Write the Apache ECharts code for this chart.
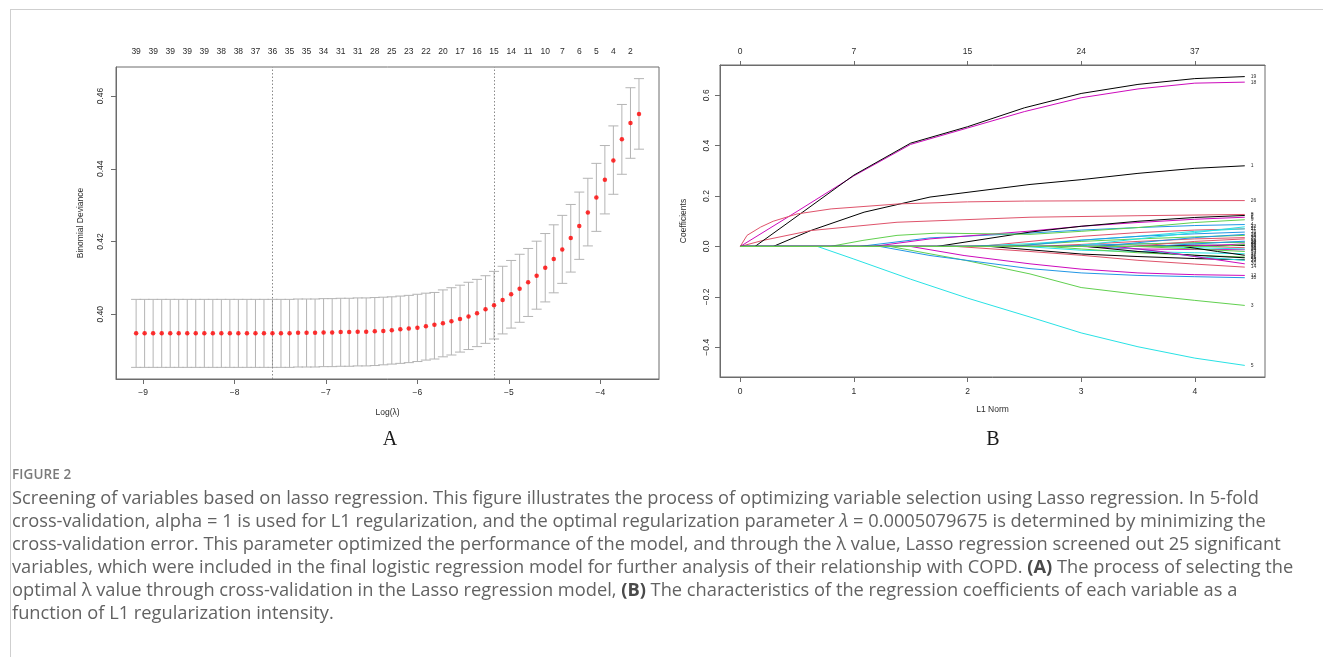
<!DOCTYPE html>
<html>
<head>
<meta charset="utf-8">
<script src="https://cdn.jsdelivr.net/npm/echarts@6/dist/echarts.min.js"></script>
<style>
html,body{margin:0;padding:0;background:#fff;}
#wrap{position:relative;width:1323px;height:657px;overflow:hidden;background:#fff;}
#chart{position:absolute;left:0;top:0;width:1323px;height:657px;}
#frame{position:absolute;left:10px;top:9px;width:1320px;height:660px;border-left:1px solid #cfcfcf;border-top:1px solid #cfcfcf;}
.cap{position:absolute;left:12px;font-family:'Open Sans',Lato,sans-serif;color:#626262;font-size:16.5px;line-height:23px;white-space:nowrap;}
.fig{position:absolute;left:12px;top:466px;font-family:'Open Sans',Lato,sans-serif;color:#7a7a7a;font-size:13.5px;font-weight:600;line-height:16px;letter-spacing:0.1px;}
.cap b{color:#4a4a4a;}
</style>
</head>
<body>
<div id="wrap">
<div id="chart"></div>
<div id="frame"></div>
<div class="fig">FIGURE 2</div>
<div class="cap fitline" style="top:485px">Screening of variables based on lasso regression. This figure illustrates the process of optimizing variable selection using Lasso regression. In 5-fold</div>
<div class="cap fitline" style="top:508px">cross-validation, alpha = 1 is used for L1 regularization, and the optimal regularization parameter <i>λ</i> = 0.0005079675 is determined by minimizing the</div>
<div class="cap fitline" style="top:531px">cross-validation error. This parameter optimized the performance of the model, and through the λ value, Lasso regression screened out 25 significant</div>
<div class="cap fitline" style="top:554px">variables, which were included in the final logistic regression model for further analysis of their relationship with COPD. <b>(A)</b> The process of selecting the</div>
<div class="cap fitline" style="top:577px">optimal λ value through cross-validation in the Lasso regression model, <b>(B)</b> The characteristics of the regression coefficients of each variable as a</div>
<div class="cap" style="top:600px">function of L1 regularization intensity.</div>
</div>
<script>
// ---------- Panel A data: cross-validation curve ----------
const logLambda = [-9.076,-8.983,-8.890,-8.796,-8.703,-8.610,-8.517,-8.424,-8.330,-8.237,
  -8.144,-8.051,-7.958,-7.864,-7.771,-7.678,-7.585,-7.492,-7.398,-7.305,
  -7.212,-7.119,-7.026,-6.932,-6.839,-6.746,-6.653,-6.560,-6.466,-6.373,
  -6.280,-6.187,-6.094,-6.000,-5.907,-5.814,-5.721,-5.628,-5.534,-5.441,
  -5.348,-5.255,-5.162,-5.068,-4.975,-4.882,-4.789,-4.696,-4.602,-4.509,
  -4.416,-4.323,-4.230,-4.136,-4.043,-3.950,-3.857,-3.764,-3.670,-3.577];
const cvMean = [0.3948,0.3948,0.3948,0.3948,0.3948,0.3948,0.3948,0.3948,0.3948,0.3948,
  0.3948,0.3948,0.3948,0.3948,0.3948,0.3948,0.3948,0.3948,0.3948,0.3949,
  0.3949,0.3949,0.3950,0.3950,0.3951,0.3951,0.3952,0.3952,0.3953,0.3954,
  0.3956,0.3959,0.3961,0.3963,0.3967,0.3971,0.3975,0.3981,0.3987,0.3994,
  0.4003,0.4014,0.4025,0.4039,0.4055,0.4070,0.4088,0.4106,0.4128,0.4152,
  0.4178,0.4210,0.4243,0.4280,0.4321,0.4370,0.4423,0.4481,0.4526,0.4551];
const cvUpper = [0.4041,0.4041,0.4041,0.4041,0.4041,0.4041,0.4041,0.4041,0.4041,0.4041,
  0.4041,0.4041,0.4041,0.4041,0.4041,0.4041,0.4041,0.4041,0.4041,0.4042,
  0.4042,0.4042,0.4043,0.4043,0.4044,0.4044,0.4045,0.4045,0.4046,0.4047,
  0.4048,0.4050,0.4052,0.4055,0.4058,0.4060,0.4067,0.4073,0.4080,0.4088,
  0.4096,0.4106,0.4118,0.4132,0.4148,0.4165,0.4181,0.4201,0.4222,0.4246,
  0.4272,0.4302,0.4336,0.4374,0.4415,0.4464,0.4518,0.4577,0.4623,0.4648];
const cvLower = [0.3854,0.3854,0.3854,0.3854,0.3854,0.3854,0.3854,0.3854,0.3854,0.3854,
  0.3854,0.3854,0.3854,0.3854,0.3854,0.3854,0.3854,0.3854,0.3854,0.3855,
  0.3855,0.3855,0.3856,0.3856,0.3857,0.3857,0.3858,0.3858,0.3859,0.3861,
  0.3863,0.3865,0.3867,0.3870,0.3874,0.3877,0.3883,0.3888,0.3896,0.3903,
  0.3911,0.3920,0.3932,0.3946,0.3962,0.3978,0.3994,0.4014,0.4034,0.4059,
  0.4085,0.4116,0.4151,0.4188,0.4228,0.4276,0.4330,0.4385,0.4429,0.4454];
// number of non-zero coefficients shown on the top axis (every other lambda)
const nzeroLabels = [39,39,39,39,39,38,38,37,36,35,35,34,31,31,28,25,23,22,20,17,16,15,14,11,10,7,6,5,4,2];
const lambdaMin = 0.0005079675;
const logLambda1se = -5.162;
const xTicksA = [-9,-8,-7,-6,-5,-4];
const yTicksA = [0.40,0.42,0.44,0.46];

// ---------- Panel B data: coefficient paths vs L1 norm ----------
const l1Ticks = [0,1,2,3,4];
const dfLabels = [0,7,15,24,37];
const coefTicks = [-0.4,-0.2,0.0,0.2,0.4,0.6];
const v1 = [[0,0],[0.29,0],[0.62,0.063],[1.09,0.136],[1.67,0.196],[2.55,0.246],[3,0.265],[3.5,0.29],[4,0.31],[4.44,0.32]];
const v2 = [[0,0],[2.1,0],[3,0.04],[3.5,0.055],[4,0.065],[4.44,0.07]];
const v3 = [[0,0],[1.32,0],[1.98,-0.055],[2.55,-0.109],[3,-0.163],[3.5,-0.19],[4,-0.214],[4.44,-0.234]];
const v4 = [[0,0],[1.05,0],[1.67,0.034],[2.55,0.053],[3,0.065],[3.5,0.075],[4,0.083],[4.44,0.087]];
const v5 = [[0,0],[0.68,0],[1,-0.05],[1.5,-0.13],[2,-0.205],[2.55,-0.28],[3,-0.343],[3.5,-0.398],[4,-0.443],[4.44,-0.472]];
const v6 = [[0,0],[1.17,0],[1.67,0.03],[2.55,0.061],[3,0.08],[3.5,0.095],[4,0.108],[4.44,0.116]];
const v7 = [[0,0],[1.73,0],[2.55,0.057],[3,0.08],[3.5,0.1],[4,0.115],[4.44,0.123]];
const v8 = [[0,0],[0.2,0.024],[0.62,0.063],[1.38,0.096],[2.55,0.116],[3.5,0.122],[4.44,0.127]];
const v9 = [[0,0],[0.79,0],[1.08,0.024],[1.38,0.044],[1.73,0.053],[2.55,0.048],[3,0.06],[3.5,0.075],[4,0.095],[4.44,0.106]];
const v10 = [[0,0],[1.23,0],[1.67,-0.036],[2.55,-0.088],[3,-0.105],[3.5,-0.115],[4,-0.12],[4.44,-0.124]];
const v11 = [[0,0],[1.97,0],[2.55,0.011],[3,0.025],[3.5,0.04],[4,0.06],[4.44,0.07]];
const v12 = [[0,0],[1.5,0],[1.97,-0.036],[2.55,-0.069],[3,-0.09],[3.5,-0.105],[4,-0.112],[4.44,-0.115]];
const v13 = [[0,0],[2.2,0],[3,-0.03],[3.5,-0.04],[4,-0.048],[4.44,-0.053]];
const v14 = [[0,0],[1.9,0],[2.55,-0.02],[3,-0.035],[3.5,-0.055],[4,-0.07],[4.44,-0.082]];
const v15 = [[0,0],[2.3,0],[3,0.02],[3.5,0.03],[4,0.038],[4.44,0.044]];
const v16 = [[0,0],[2.4,0],[3,0.025],[3.5,0.04],[4,0.05],[4.44,0.057]];
const v17 = [[0,0],[2.5,0],[3,-0.015],[3.5,-0.02],[4,-0.025],[4.44,-0.029]];
const v18 = [[0,0],[0.5,0.139],[1,0.28],[1.5,0.405],[2,0.47],[2.5,0.535],[3,0.59],[3.5,0.625],[4,0.648],[4.44,0.652]];
const v19 = [[0,0],[0.13,0],[0.5,0.12],[1,0.283],[1.5,0.41],[2,0.475],[2.5,0.55],[3,0.607],[3.5,0.643],[4,0.666],[4.44,0.674]];
const v20 = [[0,0],[2.6,0],[3,0.008],[3.5,0.02],[4,0.03],[4.44,0.035]];
const v21 = [[0,0],[2.7,0],[3,-0.01],[3.5,-0.025],[4,-0.035],[4.44,-0.042]];
const v22 = [[0,0],[2.8,0],[3,0.005],[3.5,0.01],[4,0.014],[4.44,0.017]];
const v23 = [[0,0],[2.9,0],[3.5,0.03],[4,0.055],[4.44,0.078]];
const v24 = [[0,0],[3.0,0],[3.5,-0.01],[4,-0.012],[4.44,-0.013]];
const v25 = [[0,0],[3.05,0],[3.5,-0.02],[4,-0.035],[4.44,-0.045]];
const v26 = [[0,0],[0.06,0.044],[0.18,0.077],[0.29,0.1],[0.5,0.129],[0.8,0.149],[1.4,0.169],[2,0.177],[2.5,0.18],[3.5,0.182],[4.44,0.182]];
const v27 = [[0,0],[3.1,0],[3.5,0.01],[4,0.015],[4.44,0.017]];
const v28 = [[0,0],[3.15,0],[3.5,0.015],[4,0.035],[4.44,0.048]];
const v29 = [[0,0],[3.2,0],[3.5,-0.01],[4,-0.04],[4.44,-0.055]];
const v30 = [[0,0],[3.3,0],[3.7,-0.02],[4,-0.04],[4.44,-0.069]];
const v31 = [[0,0],[3.4,0],[4,0.005],[4.44,0.004]];
const v32 = [[0,0],[3.45,0],[4,0.02],[4.44,0.03]];
const v33 = [[0,0],[3.5,0],[4,-0.01],[4.44,-0.02]];
const v34 = [[0,0],[3.6,0],[4,0.01],[4.44,0.021]];
const v35 = [[0,0],[3.7,0],[4,-0.005],[4.44,-0.01]];
const v36 = [[0,0],[3.8,0],[4.2,0.005],[4.44,0.01]];
const v37 = [[0,0],[3.9,0],[4.2,-0.02],[4.44,-0.035]];
const v38 = [[0,0],[4.1,0],[4.44,-0.005]];
const v39 = [[0,0],[4.2,0],[4.44,0.008]];
const coefPaths = [v1,v2,v3,v4,v5,v6,v7,v8,v9,v10,v11,v12,v13,v14,v15,v16,v17,v18,v19,v20,
  v21,v22,v23,v24,v25,v26,v27,v28,v29,v30,v31,v32,v33,v34,v35,v36,v37,v38,v39];
const pathPalette = ['#000000','#DF536B','#61D04F','#2297E6','#28E2E5','#CD0BBC'];

// ---------- caption width fit (total width of the five full lines) ----------
function fitCaption() {
  const caps = document.querySelectorAll('.cap');
  const lines = document.querySelectorAll('.fitline');
  const base = 16.5;
  caps.forEach(c => { c.style.fontSize = base + 'px'; });
  let w = 0;
  lines.forEach(c => { w += c.getBoundingClientRect().width; });
  if (w > 0) {
    const fs = base * 6281 / w;
    caps.forEach(c => { c.style.fontSize = fs.toFixed(2) + 'px'; });
  }
}
fitCaption();
if (document.fonts && document.fonts.ready) { document.fonts.ready.then(fitCaption); }

// ---------- build chart ----------
const FONT = '"Liberation Sans", Arial, Helvetica, sans-serif';
const TXT = '#2b2b2b';
const AX = '#6c6c6c';
const FS = 8.5;
const minus = v => String(v).replace('-', '\u2212');
const topMapA = {};
const topValuesA = nzeroLabels.map((n, i) => { topMapA[logLambda[2*i].toFixed(3)] = n; return logLambda[2*i]; });
const dfMap = {};
l1Ticks.forEach((v, i) => { dfMap[v] = dfLabels[i]; });

const labelBase = {fontSize: FS, color: TXT, fontFamily: FONT};
const nameBase = {fontSize: FS, color: TXT, fontFamily: FONT};

const series = [];
// error bars
series.push({
  type: 'custom', xAxisIndex: 0, yAxisIndex: 0, silent: true, z: 2,
  data: logLambda.map((x, i) => [x, cvLower[i], cvUpper[i]]),
  renderItem: (params, api) => {
    const x = api.value(0), lo = api.value(1), hi = api.value(2);
    const barw = 0.055;
    const pLo = api.coord([x, lo]), pHi = api.coord([x, hi]);
    const l1 = api.coord([x - barw, lo]), r1 = api.coord([x + barw, lo]);
    const l2 = api.coord([x - barw, hi]), r2 = api.coord([x + barw, hi]);
    const style = {stroke: '#b4b4b4', lineWidth: 1, fill: null};
    return {type: 'group', children: [
      {type: 'line', shape: {x1: pLo[0], y1: pLo[1], x2: pHi[0], y2: pHi[1]}, style},
      {type: 'line', shape: {x1: l1[0], y1: l1[1], x2: r1[0], y2: r1[1]}, style},
      {type: 'line', shape: {x1: l2[0], y1: l2[1], x2: r2[0], y2: r2[1]}, style}
    ]};
  }
});
// mean points + reference lines
series.push({
  type: 'scatter', xAxisIndex: 0, yAxisIndex: 0, z: 5, silent: true,
  symbol: 'circle', symbolSize: 4.5,
  itemStyle: {color: '#ff0000'},
  data: logLambda.map((x, i) => [x, cvMean[i]]),
  markLine: {
    silent: true, symbol: ['none', 'none'], label: {show: false},
    lineStyle: {type: [1.5, 2], color: '#8a8a8a', width: 1},
    data: [{xAxis: Math.log(lambdaMin)}, {xAxis: logLambda1se}]
  }
});
// coefficient paths
coefPaths.forEach((p, k) => {
  const col = pathPalette[k % 6];
  series.push({
    type: 'line', xAxisIndex: 2, yAxisIndex: 1, silent: true, z: 3,
    data: p, showSymbol: false, symbol: 'none', smooth: false,
    lineStyle: {width: 1, color: col}, itemStyle: {color: col},
    endLabel: {show: true, formatter: String(k + 1), fontSize: 5, color: '#333', fontFamily: FONT, distance: 6}
  });
});

const option = {
  animation: false,
  backgroundColor: '#ffffff',
  textStyle: {fontFamily: FONT},
  grid: [
    {left: 116, top: 67, width: 543, height: 312, show: true, borderColor: AX, borderWidth: 1, backgroundColor: 'transparent'},
    {left: 720, top: 65, width: 545, height: 312, show: true, borderColor: AX, borderWidth: 1, backgroundColor: 'transparent'}
  ],
  xAxis: [
    {gridIndex: 0, type: 'value', position: 'bottom', min: -9.296, max: -3.358,
     axisLine: {show: true, onZero: false, lineStyle: {color: AX}},
     axisTick: {show: true, length: 5, customValues: xTicksA, lineStyle: {color: AX}},
     axisLabel: Object.assign({customValues: xTicksA, margin: 9, formatter: v => minus(v)}, labelBase),
     splitLine: {show: false},
     name: 'Log(\u03bb)', nameLocation: 'middle', nameGap: 29, nameTextStyle: nameBase},
    {gridIndex: 0, type: 'value', position: 'top', min: -9.296, max: -3.358,
     axisLine: {show: false}, axisTick: {show: false},
     axisLabel: Object.assign({customValues: topValuesA, margin: 11, formatter: v => String(topMapA[Number(v).toFixed(3)])}, labelBase),
     splitLine: {show: false}},
    {gridIndex: 1, type: 'value', position: 'bottom', min: -0.178, max: 4.618,
     axisLine: {show: true, onZero: false, lineStyle: {color: AX}},
     axisTick: {show: true, length: 5, customValues: l1Ticks, lineStyle: {color: AX}},
     axisLabel: Object.assign({customValues: l1Ticks, margin: 10, formatter: v => String(v)}, labelBase),
     splitLine: {show: false},
     name: 'L1 Norm', nameLocation: 'middle', nameGap: 28, nameTextStyle: nameBase},
    {gridIndex: 1, type: 'value', position: 'top', min: -0.178, max: 4.618,
     axisLine: {show: true, onZero: false, lineStyle: {color: AX}},
     axisTick: {show: true, length: 4, customValues: l1Ticks, lineStyle: {color: AX}},
     axisLabel: Object.assign({customValues: l1Ticks, margin: 9, formatter: v => String(dfMap[v])}, labelBase),
     splitLine: {show: false}}
  ],
  yAxis: [
    {gridIndex: 0, type: 'value', min: 0.3822, max: 0.468,
     axisLine: {show: true, onZero: false, lineStyle: {color: AX}},
     axisTick: {show: true, length: 5, customValues: yTicksA, lineStyle: {color: AX}},
     axisLabel: Object.assign({customValues: yTicksA, rotate: 90, margin: 11, formatter: v => Number(v).toFixed(2)}, labelBase),
     splitLine: {show: false},
     name: 'Binomial Deviance', nameLocation: 'middle', nameRotate: 90, nameGap: 31, nameTextStyle: nameBase},
    {gridIndex: 1, type: 'value', min: -0.518, max: 0.72,
     axisLine: {show: true, onZero: false, lineStyle: {color: AX}},
     axisTick: {show: true, length: 5, customValues: coefTicks, lineStyle: {color: AX}},
     axisLabel: Object.assign({customValues: coefTicks, rotate: 90, margin: 9, formatter: v => minus(Number(v).toFixed(1))}, labelBase),
     splitLine: {show: false},
     name: 'Coefficients', nameLocation: 'middle', nameRotate: 90, nameGap: 32, nameTextStyle: nameBase}
  ],
  graphic: [
    {type: 'text', x: 390, y: 440, style: {text: 'A', align: 'center', verticalAlign: 'middle', textAlign: 'center', textVerticalAlign: 'middle', font: '20px "Liberation Serif", "Times New Roman", serif', fill: '#1a1a1a'}},
    {type: 'text', x: 993, y: 440, style: {text: 'B', align: 'center', verticalAlign: 'middle', textAlign: 'center', textVerticalAlign: 'middle', font: '20px "Liberation Serif", "Times New Roman", serif', fill: '#1a1a1a'}}
  ],
  series: series
};
const chart = echarts.init(document.getElementById('chart'));
chart.setOption(option);
</script>
</body>
</html>
